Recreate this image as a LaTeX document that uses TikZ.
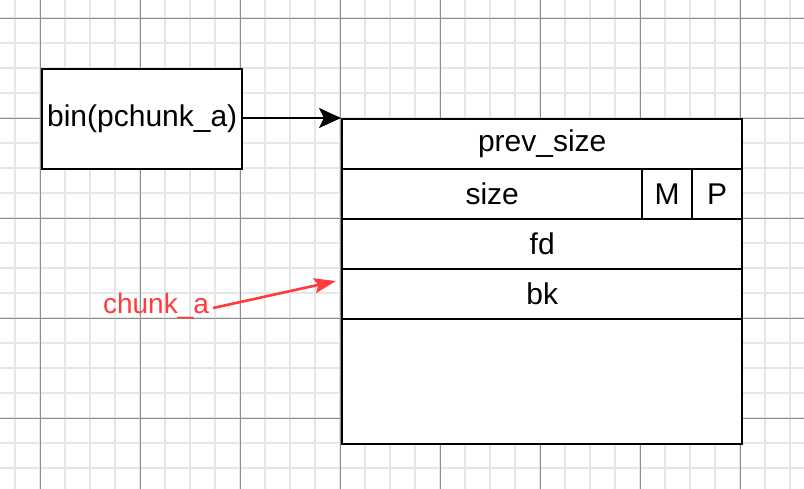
\documentclass[tikz,border=0pt]{standalone}
\usepackage{fontspec}
\setmainfont{Liberation Sans}
\usetikzlibrary{arrows.meta}
\definecolor{minorgrid}{HTML}{E6E6E6}
\definecolor{majorgrid}{HTML}{8C8C8C}
\definecolor{redarrow}{HTML}{FF3B3B}
\begin{document}
\begin{tikzpicture}[x=1pt,y=-1pt,
  cell/.style={draw=black,line width=2.4pt,fill=white,inner sep=0pt,anchor=north west,
    font=\fontsize{30}{34}\selectfont},
  conn/.style={line width=2.2pt,-{Stealth[length=22pt,width=20pt,inset=5pt]}}]
\useasboundingbox (0,0) rectangle (804,489);
\fill[white] (0,0) rectangle (804,489);
% minor grid
\foreach \x in {15,40,...,790} \draw[minorgrid,line width=1.2pt] (\x,0) -- (\x,489);
\foreach \y in {18,43,...,480} \draw[minorgrid,line width=1.2pt] (0,\y) -- (804,\y);
% major grid
\foreach \x in {40,140,...,740} \draw[majorgrid,line width=0.9pt] (\x,0) -- (\x,489);
\foreach \y in {18,118,...,418} \draw[majorgrid,line width=0.9pt] (0,\y) -- (804,\y);
% bin box
\node[cell,minimum width=200pt,minimum height=100pt] (bin) at (41,68) {bin(pchunk\_a)};
% chunk rows
\node[cell,minimum width=400pt,minimum height=50pt] (prev) at (341,118) {prev\_size};
\node[cell,minimum width=300pt,minimum height=50pt] (size) at (341,168) {size};
\node[cell,minimum width=50pt,minimum height=50pt] (m) at (641,168) {M};
\node[cell,minimum width=50pt,minimum height=50pt] (p) at (691,168) {P};
\node[cell,minimum width=400pt,minimum height=50pt] (fd) at (341,218) {fd};
\node[cell,minimum width=400pt,minimum height=50pt] (bk) at (341,268) {bk};
\node[cell,minimum width=400pt,minimum height=125pt] (rest) at (341,318) {};
% arrow from bin to chunk
\draw[conn] (bin.east |- prev.north west) -- (prev.north west);
% red label and arrow
\node[text=redarrow,font=\fontsize{28}{32}\selectfont,inner sep=0pt] (lbl) at (156,306) {chunk\_a};
\coordinate (tip) at (336,281);
\draw[redarrow,line width=2.6pt,-{Stealth[length=22pt,width=15pt,inset=4pt]}] (lbl.east) ++(4,2) -- (tip);
\end{tikzpicture}
\end{document}
